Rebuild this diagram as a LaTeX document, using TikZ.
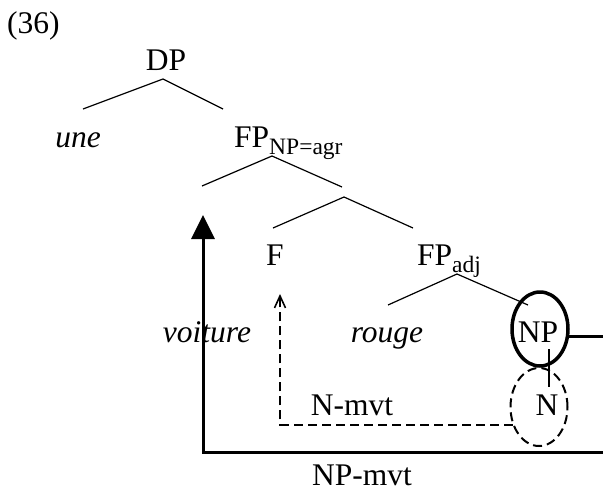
\documentclass[tikz,border=0pt]{standalone}
\usepackage{fontspec}
\setmainfont{Liberation Serif}
\usetikzlibrary{arrows.meta,shapes.geometric}
\newcommand{\lsub}[1]{\raisebox{-7pt}{\fontsize{23.5}{24}\selectfont #1}}
\begin{document}
\begin{tikzpicture}[x=1pt,y=-1pt,
  lbl/.style={font=\fontsize{31.5}{36}\selectfont, inner sep=0pt, anchor=base},
  ilbl/.style={lbl, font=\fontsize{31.5}{36}\selectfont\itshape},
  branch/.style={line width=1.2pt},
  dsh/.style={line width=1.6pt, dash pattern=on 9pt off 5pt},
  heavy/.style={line width=3pt},
  ring/.style={ellipse, draw, inner sep=0pt}]
\useasboundingbox (0,0) rectangle (603,491);
\clip (0,0) rectangle (603,491);

% labels
\node[lbl, anchor=base west] (num) at (7,33) {(36)};
\node[lbl] (dp) at (166,70) {DP};
\node[ilbl] (une) at (78,147) {une};
\node[lbl, anchor=base west] (fp1) at (234,147) {FP\lsub{NP=agr}};
\node[lbl] (f) at (275,265) {F};
\node[lbl, anchor=base west] (fp2) at (417,265) {FP\lsub{adj}};
\node[ilbl] (voiture) at (207,342) {voiture};
\node[ilbl] (rouge) at (387,342) {rouge};
\node[lbl] (np) at (538,342) {NP};
\node[lbl] (n) at (547,415) {N};
\node[lbl] (nmvt) at (352,415) {N-mvt};
\node[lbl] (npmvt) at (362,485) {NP-mvt};

% ellipses
\node[ring, line width=3.5pt, minimum width=56pt, minimum height=74pt] (npell) at (540,329) {};
\node[ring, dsh, line width=2pt, minimum width=57pt, minimum height=78pt] (nell) at (539,407) {};

% branch points
\coordinate (dpA) at (163,79);
\coordinate (dpL) at (83,109);
\coordinate (dpR) at (223,109);
\coordinate (fpA) at (272,156);
\coordinate (fpL) at (202,186);
\coordinate (fpR) at (342,187);
\coordinate (fpbA) at (344,197);
\coordinate (fpbL) at (273,228);
\coordinate (fpbR) at (413,228);
\coordinate (adjA) at (457,274);
\coordinate (adjL) at (388,305);
\coordinate (adjR) at (528,305);
\coordinate (npA) at (549,349);
\coordinate (npB) at (549,387);

\draw[branch] (dpL) -- (dpA) -- (dpR);
\draw[branch] (fpL) -- (fpA) -- (fpR);
\draw[branch] (fpbL) -- (fpbA) -- (fpbR);
\draw[branch] (adjL) -- (adjA) -- (adjR);
\draw[branch] (npA) -- (npB);

% NP movement
\coordinate (outR) at (615,452);
\coordinate (corner) at (203,452);
\coordinate (uptip) at (203,215);
\draw[heavy, -{Triangle[length=24pt,width=23pt]}] (npell.-14) -| (outR) -- (corner) -- (uptip);

% N movement
\coordinate (ftip) at (280,294);
\draw[dsh, -{Straight Barb[length=12pt,width=11pt,line width=1.6pt]}] (nell.214) -| (ftip);
\end{tikzpicture}
\end{document}
